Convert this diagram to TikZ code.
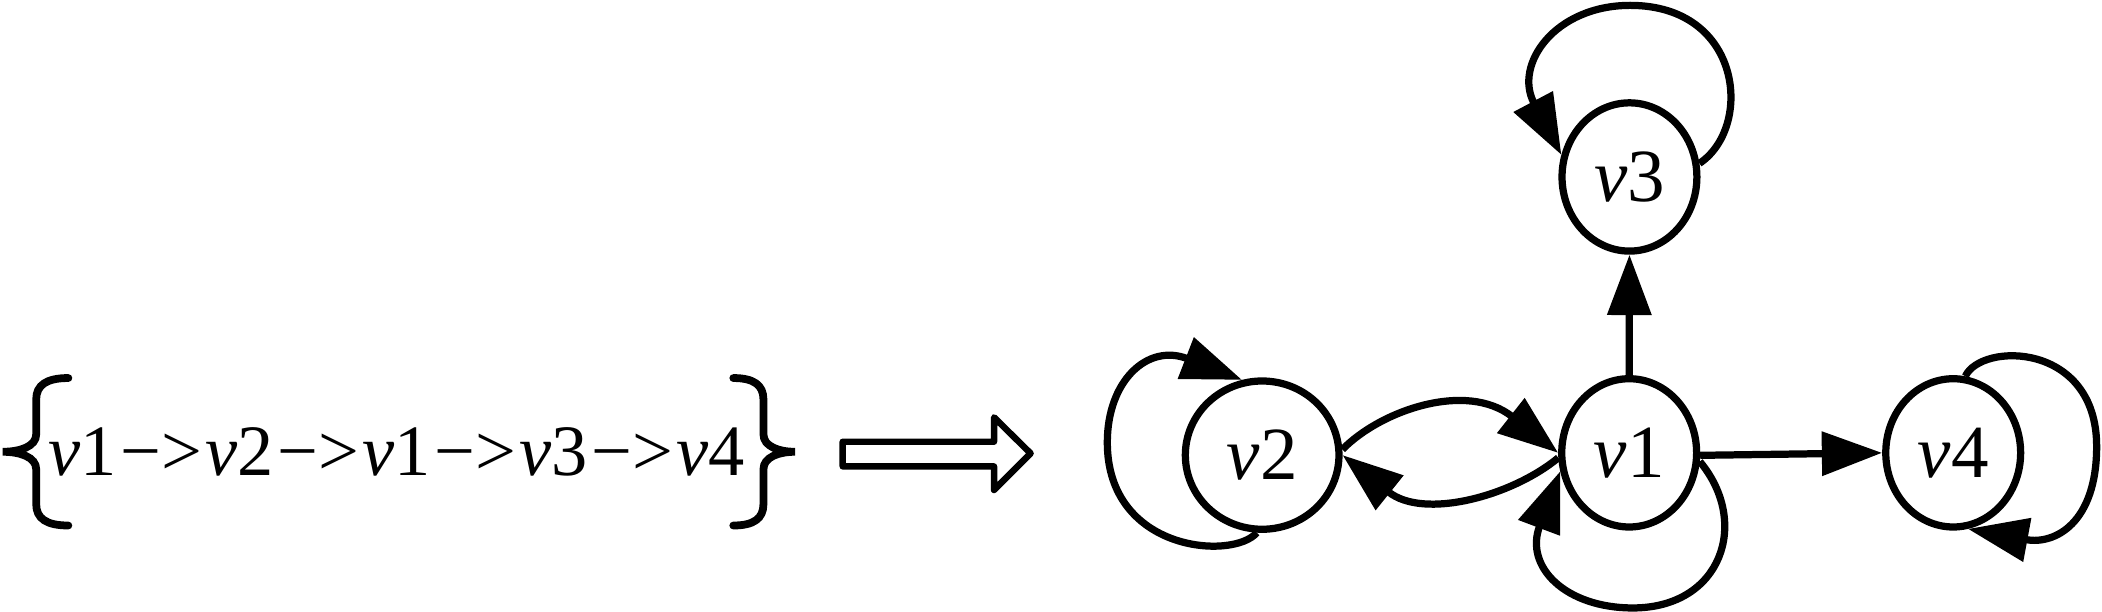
\documentclass[tikz,border=0pt]{standalone}
\usepackage{fontspec}
\setmainfont{Liberation Serif}
\usetikzlibrary{arrows.meta,shapes.geometric}
\newcommand{\tto}{\kern1.3pt−>\kern1.3pt}
\tikzset{
  lbl/.style={font=\fontsize{28pt}{33pt}\selectfont},
  seqlbl/.style={font=\fontsize{27pt}{32pt}\selectfont},
  vnode/.style={draw, ellipse, line width=2.7pt, inner sep=0pt, lbl},
  smallnode/.style={vnode, minimum width=50.3pt, minimum height=55.3pt},
  bignode/.style={vnode, minimum width=57.3pt, minimum height=55.3pt},
  arr/.style={line width=2.7pt, -{Triangle[length=22.5pt,width=16pt]}},
  bracestyle/.style={line width=2.9pt, line cap=round},
  hollow/.style={line width=2.4pt, line join=round}
}
\begin{document}
\begin{tikzpicture}[x=0.5pt,y=-0.5pt]
\useasboundingbox (0,0) rectangle (1568,456);
% left sequence
\node[seqlbl, anchor=base west, inner sep=0pt] (seq) at (36,355)
  {\textit{v}1\tto\textit{v}2\tto\textit{v}1\tto\textit{v}3\tto\textit{v}4};
\draw[bracestyle] (51,282) .. controls (35,282) and (27,287) .. (27,298) -- (27,324)
  .. controls (27,333) and (15,337) .. (2,337) .. controls (15,337) and (27,341) .. (27,350)
  -- (27,376) .. controls (27,387) and (35,392) .. (51,392);
\draw[bracestyle] (547,282) .. controls (562,282) and (569.5,287) .. (569.5,298) -- (569.5,324)
  .. controls (569.5,333) and (581,337) .. (593,337) .. controls (581,337) and (569.5,341) .. (569.5,350)
  -- (569.5,376) .. controls (569.5,387) and (562,392) .. (547,392);
% hollow arrow
\draw[hollow] (628.6,329.5) -- (741.5,329.5) -- (741.5,311.3) -- (768.8,338.2)
  -- (741.5,365.5) -- (741.5,347.9) -- (628.6,347.9) -- cycle;
% nodes
\node[bignode] (v2) at (941.5,339.5) {\textit{v}2};
\node[smallnode] (v1) at (1215.3,337.8) {\textit{v}1};
\node[smallnode] (v3) at (1215.5,132) {\textit{v}3};
\node[smallnode] (v4) at (1457,337.8) {\textit{v}4};
% edges
\draw[arr] (v1.north) -- (v3.south);
\draw[arr] (v1.-2) -- (v4.west);
\draw[arr] (v2.4) .. controls (1030,306) and (1094,284) .. (v1.180);
\draw[arr] (v1.184) .. controls (1128,370) and (1062,388) .. (v2.east);
\draw[arr] (v2.-94) .. controls (920,418) and (826,412) .. (826,330)
  .. controls (826,284) and (856,256) .. (v2.105);
\draw[arr] (v1.-7) .. controls (1306,390) and (1284,453.5) .. (1218,453.5)
  .. controls (1168,453.5) and (1137,423) .. (v1.195);
\draw[arr] (v3.11) .. controls (1308,95) and (1300,4) .. (1216,4)
  .. controls (1160,4) and (1129,48) .. (v3.162);
\draw[arr] (v4.81) .. controls (1478,255) and (1564,255) .. (1564,333)
  .. controls (1564,390) and (1533,406.6) .. (v4.-79);
\end{tikzpicture}
\end{document}
